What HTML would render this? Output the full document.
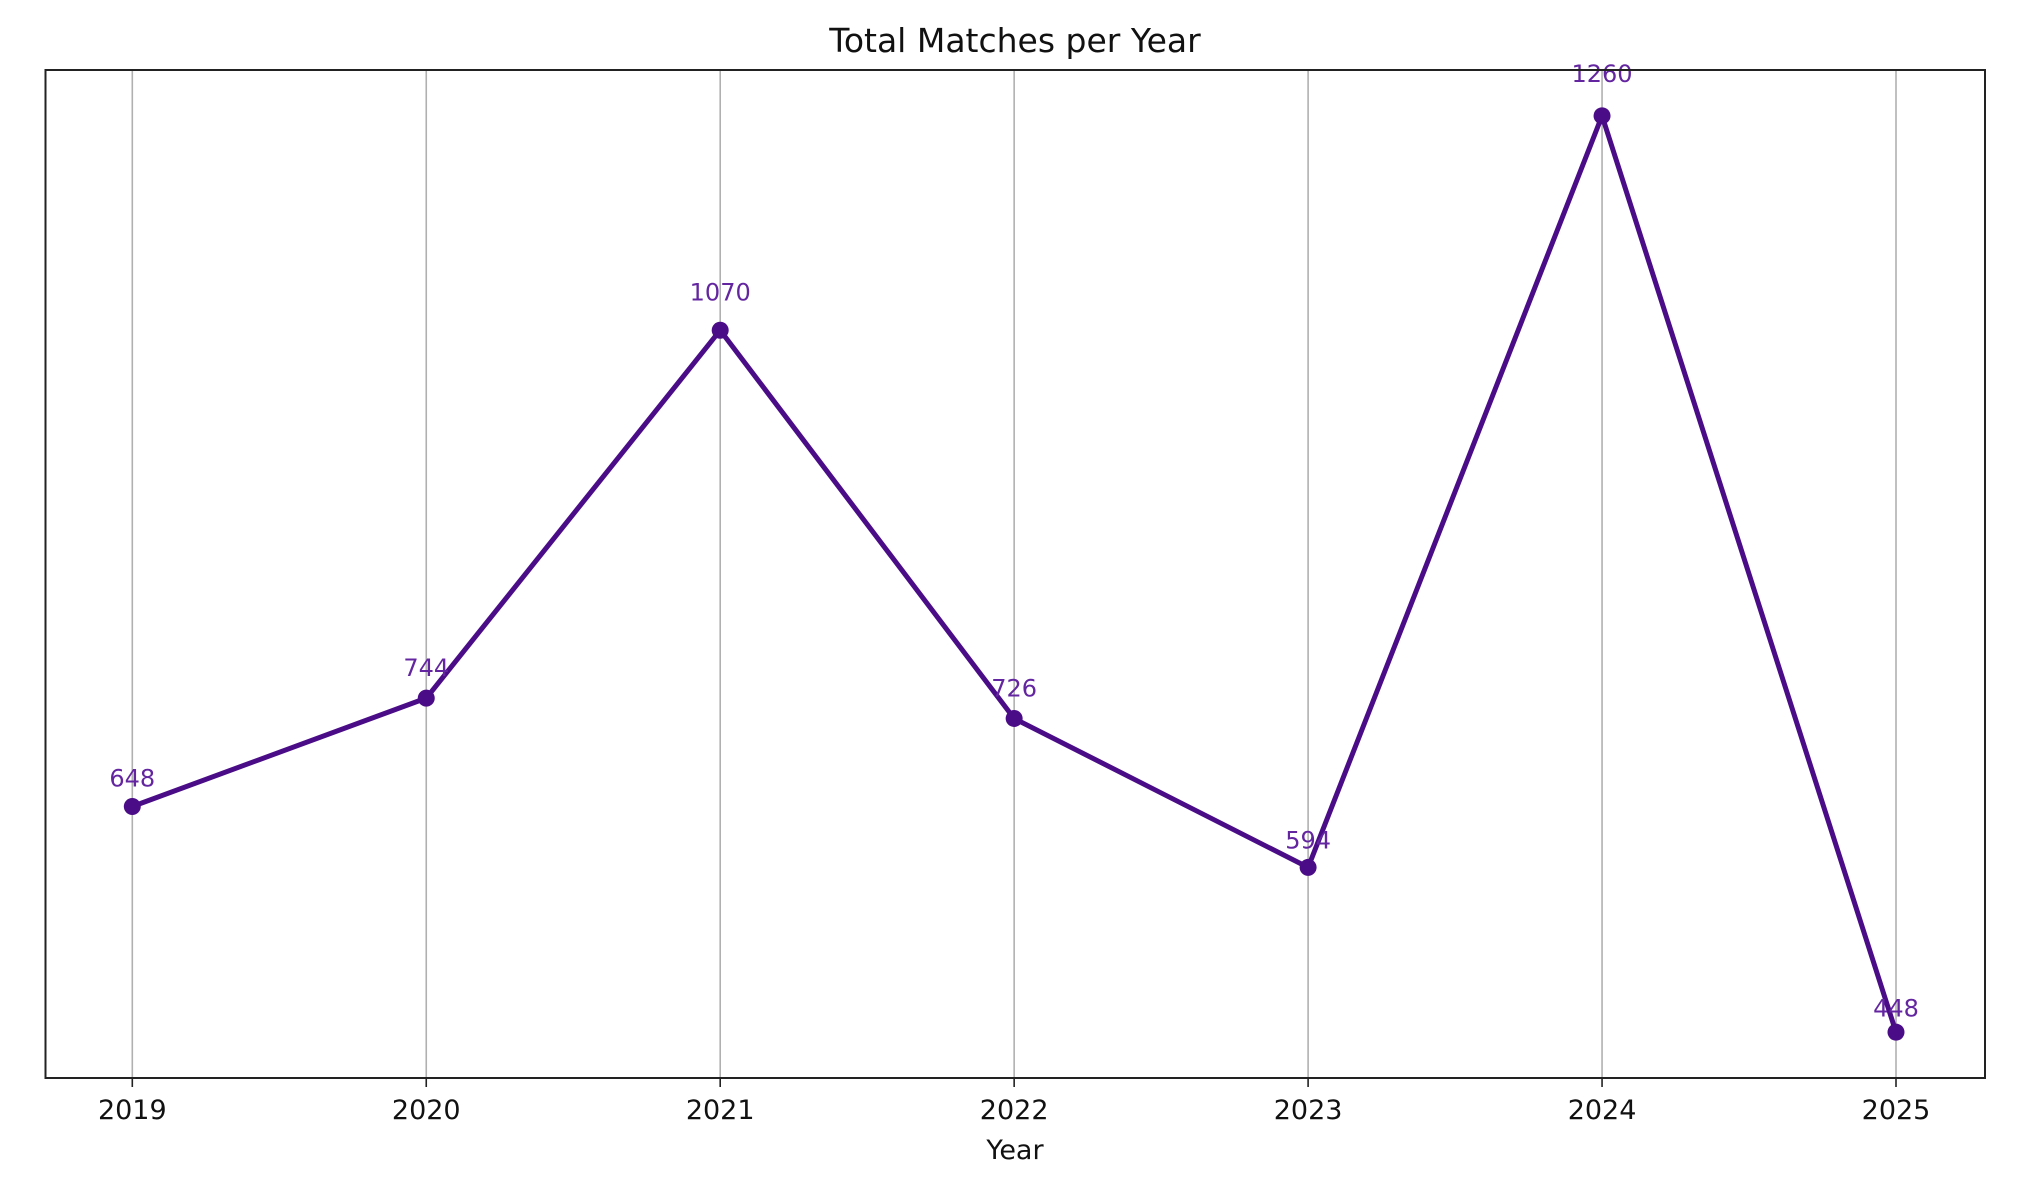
<!DOCTYPE html>
<html><head><meta charset="utf-8"><style>
html,body{margin:0;padding:0;background:#fff;}
svg{display:block;font-family:"DejaVu Sans","Liberation Sans",sans-serif;}
</style></head><body>
<svg id="chart" width="2034" height="1194" viewBox="0 0 2034 1194">
<rect width="2034" height="1194" fill="#fff"/>
<text x="1015" y="52" font-size="33" text-anchor="middle" fill="#111">Total Matches per Year</text>
<g id="grid"></g>
<g id="series"></g>
<rect x="45.5" y="70" width="1939.5" height="1008" fill="none" stroke="#222" stroke-width="2"/>
<g id="xaxis"></g>
<text x="1015" y="1159" font-size="27" text-anchor="middle" fill="#111">Year</text>
</svg>
<script>
const years = [2019, 2020, 2021, 2022, 2023, 2024, 2025];
const matches = [648, 744, 1070, 726, 594, 1260, 448];
const NS = "http://www.w3.org/2000/svg";
const L = 45.5, R = 1985, T = 70, B = 1078;
const vmin = Math.min(...matches), vmax = Math.max(...matches);
const pad = (vmax - vmin) * 0.05;
const ylo = vmin - pad, yhi = vmax + pad;
const x0 = 132.3, xStep = (1896 - 132.3) / 6;
function xs(y){ return x0 + (y - years[0]) * xStep; }
function ys(v){ return B - (v - ylo) / (yhi - ylo) * (B - T); }
function mk(tag, attrs, parent){ const e=document.createElementNS(NS,tag); for(const k in attrs) e.setAttribute(k, attrs[k]); parent.appendChild(e); return e; }
const grid = document.getElementById('grid'), xa = document.getElementById('xaxis'), ser = document.getElementById('series');
years.forEach(yr => {
  const x = xs(yr);
  const g = mk('line', {x1:x, x2:x, y1:T, y2:B, stroke:'#b0b0b0', 'stroke-width':1.6}, grid);
  
  
  const t = mk('line', {x1:x, x2:x, y1:B, y2:B+9, stroke:'#222', 'stroke-width':1.6}, xa);
  
  
  const lb = mk('text', {x:x, y:1119, 'font-size':27, 'text-anchor':'middle', fill:'#111'}, xa);
  lb.textContent = yr;
  
  
});
const pts = years.map((yr,i) => xs(yr) + ',' + ys(matches[i])).join(' ');
const pl = mk('polyline', {points:pts, fill:'none', stroke:'#4b0c87', 'stroke-width':5, 'stroke-linejoin':'round'}, ser);


years.forEach((yr,i) => {
  const v = matches[i];
  const c = mk('circle', {cx:xs(yr), cy:ys(v), r:8.5, fill:'#4b0c87'}, ser);
  
  
  const ly = ys(v) - (14.7 + 0.02236 * v) + 9;
  const a = mk('text', {x:xs(yr), y:ly, 'font-size':24, 'text-anchor':'middle', fill:'#6426a0'}, ser);
  a.textContent = v;
  
  
});
</script>
</body></html>
